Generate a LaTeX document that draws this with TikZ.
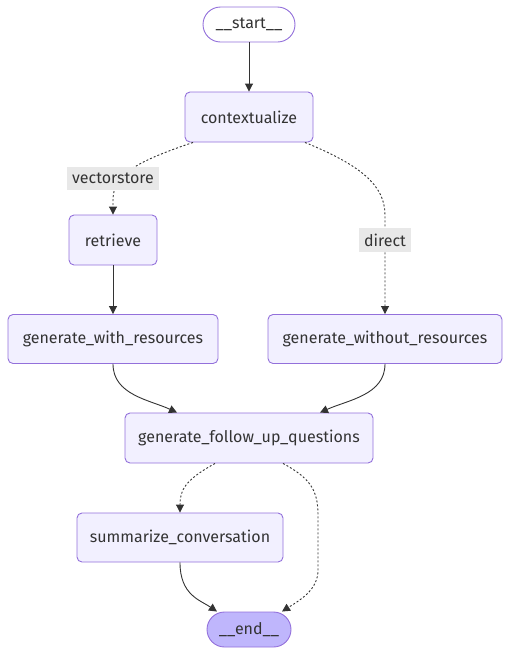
\documentclass[tikz,border=0pt]{standalone}
\usepackage{fontspec}
\setmainfont{Fira Sans}
\usetikzlibrary{arrows.meta,calc}
\definecolor{nodefill}{HTML}{F2F0FF}
\definecolor{nodeline}{HTML}{9370DB}
\definecolor{lastfill}{HTML}{BFB6FC}
\definecolor{ink}{HTML}{333333}
\definecolor{lblfill}{HTML}{E8E8E8}
\begin{document}
\begin{tikzpicture}[x=1pt,y=-1pt,
  every node/.style={font=\fontsize{16}{19}\selectfont, text=ink},
  box/.style={draw=nodeline, fill=nodefill, line width=0.9pt, rounded corners=5pt, minimum height=50pt, inner sep=0pt},
  pill/.style={draw=nodeline, line width=0.9pt, rounded corners=17.5pt, minimum height=35pt, inner sep=0pt},
  lbl/.style={fill=lblfill, inner sep=0pt, minimum height=23pt},
  conn/.style={draw=ink, line width=0.9pt, -{Triangle[length=8pt,width=8pt]}},
  dconn/.style={conn, dash pattern=on 2pt off 2pt}]
\useasboundingbox (0,0) rectangle (510,654);
\node[pill, fill=white, minimum width=92pt] (start) at (249,24.5) {\_\_start\_\_};
\node[box, minimum width=128pt] (ctx) at (249,117) {contextualize};
\node[box, minimum width=88pt] (ret) at (113,240) {retrieve};
\node[box, minimum width=210pt, minimum height=49pt] (gwr) at (113,339) {generate\_with\_resources};
\node[box, minimum width=234pt, minimum height=49pt] (gwor) at (385,339) {generate\_without\_resources};
\node[box, minimum width=248pt] (gfq) at (249,438) {generate\_follow\_up\_questions};
\node[box, minimum width=206pt, minimum height=49pt] (sum) at (180,537.5) {summarize\_conversation};
\node[pill, fill=lastfill, minimum width=84pt] (end) at (249,629.5) {\_\_end\_\_};

\draw[conn] (start) -- (ctx);
\draw[dconn] ([xshift=-56pt]ctx.south) .. controls (135,162) and (113,175) .. (113,200) -- (ret.north);
\draw[dconn] ([xshift=56pt]ctx.south) .. controls (360,165) and (385,185) .. (385,215) -- (gwor.north);
\draw[conn] (ret) -- (gwr);
\draw[conn] (gwr.south) .. controls (113,395) and (150,400) .. ([xshift=-72pt]gfq.north);
\draw[conn] (gwor.south) .. controls (385,395) and (348,400) .. ([xshift=71pt]gfq.north);
\draw[dconn] ([xshift=-34pt]gfq.south) .. controls (185,480) and (180,490) .. (sum.north);
\draw[dconn] ([xshift=34pt]gfq.south) .. controls (310,478) and (318,490) .. (318,515) -- (318,570) .. controls (318,590) and (300,600) .. ([xshift=33pt]end.north);
\draw[conn] (sum.south) .. controls (180,595) and (200,600) .. ([xshift=-32pt]end.north);

\node[lbl, minimum width=92pt] (lv) at (113,178.5) {vectorstore};
\node[lbl, minimum width=52pt, minimum height=24pt] (ld) at (385,240) {direct};
\end{tikzpicture}
\end{document}
